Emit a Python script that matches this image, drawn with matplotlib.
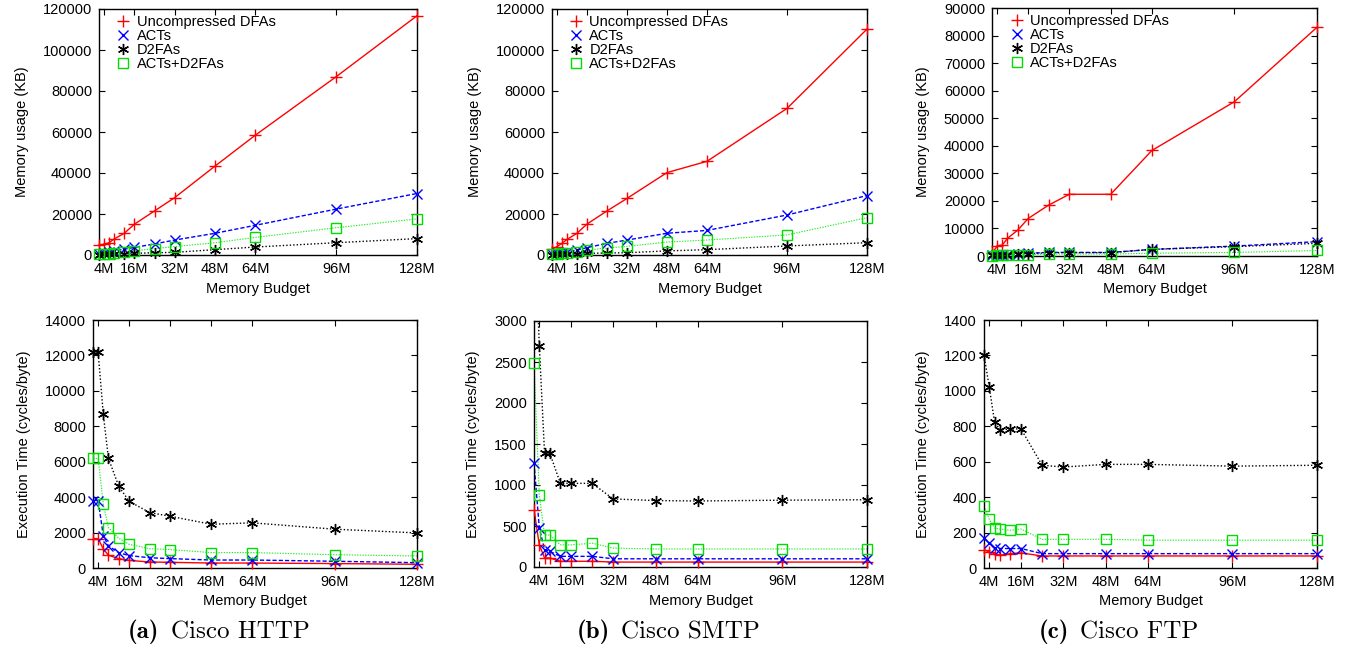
import matplotlib
matplotlib.use("Agg")
import matplotlib.pyplot as plt
from matplotlib.lines import Line2D

plt.rcParams['font.family'] = ['Liberation Sans', 'DejaVu Sans']

budget = [2, 4, 6, 8, 12, 16, 24, 32, 48, 64, 96, 128]
xtick_vals = [4, 16, 32, 48, 64, 96, 128]
xtick_labels = ["4M", "16M", "32M", "48M", "64M", "96M", "128M"]
series_names = ["Uncompressed DFAs", "ACTs", "D2FAs", "ACTs+D2FAs"]

# memory usage (KB)
http_mem_dfa = [4900, 5200, 6000, 7800, 10600, 15000, 21500, 28000, 43400, 58500, 87000, 116700]
http_mem_act = [500, 800, 1300, 2000, 2800, 3700, 5400, 7300, 10600, 14500, 22400, 30000]
http_mem_d2fa = [200, 300, 400, 500, 600, 800, 1100, 1300, 2600, 3900, 6000, 8000]
http_mem_both = [300, 400, 700, 1000, 1500, 2100, 3100, 4100, 6000, 8600, 13300, 17600]

smtp_mem_dfa = [2800, 4100, 5700, 7600, 10600, 15100, 21500, 27600, 40200, 45700, 71500, 110200]
smtp_mem_act = [500, 800, 1100, 1600, 2400, 3600, 5700, 7300, 10600, 12000, 19500, 29000]
smtp_mem_d2fa = [200, 300, 400, 500, 600, 800, 1000, 1100, 2000, 2600, 4400, 6000]
smtp_mem_both = [300, 500, 800, 1100, 1600, 2400, 3400, 4200, 6300, 7300, 9800, 18200]

ftp_mem_dfa = [1000, 3600, 4000, 6400, 9400, 13600, 18500, 22400, 22400, 38300, 56000, 83000]
ftp_mem_act = [200, 300, 400, 500, 700, 1000, 1300, 1300, 1300, 2400, 3600, 5200]
ftp_mem_d2fa = [200, 300, 400, 500, 600, 800, 1200, 1200, 1200, 2400, 3400, 4600]
ftp_mem_both = [100, 200, 250, 300, 400, 500, 700, 700, 700, 1000, 1300, 2000]

# execution time (cycles/byte)
http_time_dfa = [1660, 1660, 1080, 720, 530, 430, 340, 320, 280, 280, 250, 210]
http_time_act = [3810, 3810, 1830, 1250, 870, 700, 580, 530, 450, 450, 380, 300]
http_time_d2fa = [12170, 12170, 8680, 6190, 4620, 3770, 3130, 2920, 2470, 2550, 2190, 1980]
http_time_both = [6190, 6190, 3600, 2280, 1680, 1340, 1090, 1040, 870, 870, 750, 680]

smtp_time_dfa = [700, 270, 110, 110, 70, 70, 70, 60, 60, 60, 60, 60]
smtp_time_act = [1270, 480, 210, 190, 130, 130, 130, 100, 100, 100, 100, 100]
smtp_time_d2fa = [4500, 2700, 1385, 1385, 1020, 1020, 1020, 830, 810, 805, 815, 820]
smtp_time_both = [2490, 880, 390, 390, 270, 270, 290, 230, 220, 220, 220, 220]

ftp_time_dfa = [104, 90, 81, 72, 81, 85, 68, 68, 68, 68, 68, 68]
ftp_time_act = [170, 143, 113, 110, 110, 110, 81, 81, 81, 81, 81, 81]
ftp_time_d2fa = [1204, 1020, 825, 780, 785, 785, 580, 570, 585, 585, 575, 580]
ftp_time_both = [350, 275, 225, 220, 213, 220, 162, 162, 162, 157, 157, 157]

line_styles = [
    dict(color="#ff0000", linestyle="-", lw=1.0),
    dict(color="#0000ff", linestyle=(0, (3, 1.5)), lw=1.0),
    dict(color="black", linestyle=(0, (1, 1.5)), lw=1.0),
    dict(color="#22ee22", linestyle=(0, (1.2, 1.2)), lw=0.8),
]
marker_styles = [
    dict(color="#ff0000", marker="+", ms=8, mew=1.0),
    dict(color="#0000ff", marker="x", ms=7, mew=1.0),
    dict(color="black", marker=(6, 2, 0), ms=8, mew=1.0),
    dict(color="#00dd00", marker="s", ms=7, mew=1.0, mfc="none"),
]

W, H = 1354, 651
fig = plt.figure(figsize=(W / 100, H / 100), dpi=100)


def make_ax(left, right, top, bottom):
    return fig.add_axes([left / W, 1 - bottom / H, (right - left) / W, (bottom - top) / H])


def draw(ax, data, ymax, ystep, ylabel, legend):
    for vals, ls, ms in zip(data, line_styles, marker_styles):
        ax.plot(budget, vals, **ls)
        xs = [x for x, v in zip(budget, vals) if v <= ymax]
        ys = [v for v in vals if v <= ymax]
        ax.plot(xs, ys, linestyle="none", clip_on=False, zorder=3, **ms)
    ax.set_xlim(2, 128)
    ax.set_ylim(0, ymax)
    ax.set_xticks(xtick_vals)
    ax.set_xticklabels(xtick_labels)
    ax.set_yticks(range(0, ymax + 1, ystep))
    ax.tick_params(direction="in", top=True, right=True, length=4, labelsize=10.5, pad=5)
    ax.set_xlabel("Memory Budget", fontsize=10.5, labelpad=4)
    ax.set_ylabel(ylabel, fontsize=10.5, labelpad=10)
    for s in ax.spines.values():
        s.set_linewidth(1.0)
    if legend:
        handles = []
        for ms in marker_styles:
            handles.append(Line2D([], [], linestyle="none", **ms))
        ax.legend(handles, series_names, loc="upper left", frameon=False, fontsize=10.5,
                  handlelength=0.8, handletextpad=0.5, labelspacing=0.0,
                  bbox_to_anchor=(0.04, 1.0), borderaxespad=0.2, borderpad=0.2)


ax = make_ax(99, 417, 9, 255)
draw(ax, [http_mem_dfa, http_mem_act, http_mem_d2fa, http_mem_both], 120000, 20000,
     "Memory usage (KB)", True)
ax = make_ax(552, 867, 9, 255)
draw(ax, [smtp_mem_dfa, smtp_mem_act, smtp_mem_d2fa, smtp_mem_both], 120000, 20000,
     "Memory usage (KB)", True)
ax = make_ax(992, 1317, 8, 256)
draw(ax, [ftp_mem_dfa, ftp_mem_act, ftp_mem_d2fa, ftp_mem_both], 90000, 10000,
     "Memory usage (KB)", True)

ax = make_ax(93, 417, 320, 568)
draw(ax, [http_time_dfa, http_time_act, http_time_d2fa, http_time_both], 14000, 2000,
     "Execution Time (cycles/byte)", False)
ax = make_ax(534, 867, 321, 567)
draw(ax, [smtp_time_dfa, smtp_time_act, smtp_time_d2fa, smtp_time_both], 3000, 500,
     "Execution Time (cycles/byte)", False)
ax = make_ax(984, 1317, 320, 568)
draw(ax, [ftp_time_dfa, ftp_time_act, ftp_time_d2fa, ftp_time_both], 1400, 200,
     "Execution Time (cycles/byte)", False)

captions = [("(a)", "Cisco HTTP", 128, 171), ("(b)", "Cisco SMTP", 577, 621),
            ("(c)", "Cisco FTP", 1039, 1080)]
for tag, name, tx, nx in captions:
    fig.text(tx / W, 1 - 632 / H, tag, family="cmb10", fontsize=18, ha="left", va="center")
    fig.text(nx / W, 1 - 632 / H, name, family="cmr10", fontsize=18, ha="left", va="center")

fig.savefig("out.png", dpi=100)
